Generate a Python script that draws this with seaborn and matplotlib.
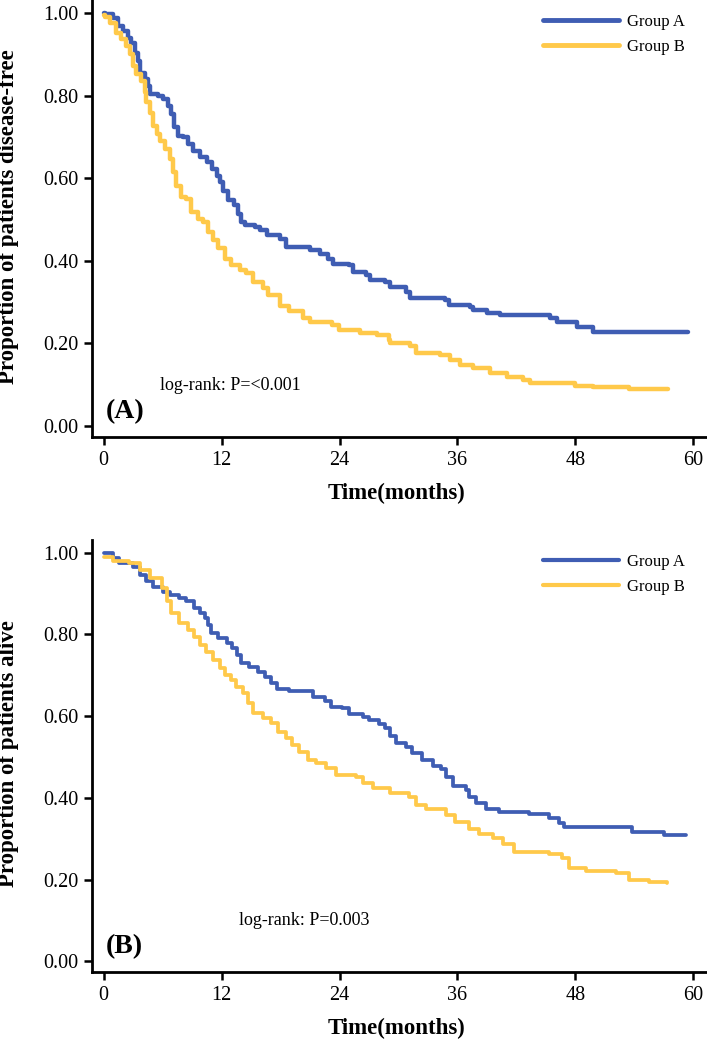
"""
Kaplan-Meier curves: disease-free (A) and overall survival (B)
"""
import numpy as np
import pandas as pd
import matplotlib
matplotlib.use("Agg")
import matplotlib.pyplot as plt
import seaborn as sns

# ---- data ----
groups = ["Group A", "Group B"]
colors = {"Group A": "#3F5DB3", "Group B": "#FFC94A"}

# panel A: disease-free
dfs_months_a = [0, 0.1, 0.95, 1.46, 1.97, 2.47, 2.8, 3.16, 3.5, 3.67, 4.2, 4.5, 4.7, 5.5,
                6.0, 6.5, 6.9, 7.2, 7.6, 8.1, 8.6, 9.1, 9.8, 10.5, 11.0, 11.5, 11.8, 12.1,
                12.7, 13.3, 13.7, 14.0, 14.4, 15.4, 15.9, 16.6, 17.9, 18.6, 21.0, 22.0,
                22.8, 23.3, 25.0, 25.4, 26.7, 27.1, 28.6, 29.1, 30.8, 31.2, 34.7, 35.1,
                37.3, 37.6, 39.0, 40.3, 45.4, 46.1, 48.2, 49.8, 59.5]
dfs_prop_a = [1.0, 0.997, 0.989, 0.969, 0.957, 0.941, 0.928, 0.904, 0.884, 0.856, 0.84,
              0.824, 0.803, 0.80, 0.792, 0.775, 0.755, 0.723, 0.703, 0.699, 0.683, 0.667,
              0.651, 0.639, 0.623, 0.606, 0.59, 0.57, 0.546, 0.534, 0.514, 0.494, 0.486,
              0.481, 0.475, 0.463, 0.453, 0.433, 0.425, 0.417, 0.405, 0.393, 0.389, 0.373,
              0.365, 0.353, 0.349, 0.337, 0.325, 0.309, 0.304, 0.292, 0.287, 0.28, 0.273,
              0.268, 0.26, 0.251, 0.239, 0.227, 0.227]
dfs_months_b = [0, 0.1, 0.6, 1.3, 1.8, 2.3, 2.65, 3.0, 3.3, 3.8, 4.2, 4.35, 4.7, 5.0, 5.4,
                5.7, 6.2, 6.7, 7.06, 7.4, 7.9, 8.4, 8.9, 9.6, 10.1, 10.6, 11.1, 11.6, 12.3,
                13.0, 13.85, 14.5, 15.2, 16.2, 16.7, 17.9, 18.9, 20.3, 21.0, 23.2, 23.9,
                26.1, 27.8, 29.0, 29.1, 31.2, 31.8, 34.2, 35.2, 36.3, 37.6, 39.3, 41.0,
                42.7, 43.4, 48.0, 49.8, 53.5, 57.4]
dfs_prop_b = [0.995, 0.99, 0.977, 0.953, 0.937, 0.92, 0.90, 0.872, 0.852, 0.836, 0.808,
              0.784, 0.759, 0.727, 0.707, 0.691, 0.671, 0.647, 0.614, 0.582, 0.554, 0.55,
              0.518, 0.502, 0.494, 0.47, 0.45, 0.43, 0.405, 0.389, 0.377, 0.369, 0.349,
              0.333, 0.316, 0.289, 0.277, 0.26, 0.252, 0.244, 0.232, 0.224, 0.22, 0.208,
              0.20, 0.192, 0.176, 0.171, 0.159, 0.147, 0.14, 0.128, 0.118, 0.111, 0.104,
              0.097, 0.094, 0.09, 0.09]

# panel B: overall survival
os_months_a = [0, 0.95, 1.6, 3.0, 3.66, 4.3, 5.0, 6.0, 6.7, 7.7, 8.4, 9.2, 9.8, 10.3,
               10.6, 10.9, 11.6, 12.5, 13.1, 13.6, 14.0, 14.8, 15.7, 16.4, 17.0, 17.6,
               18.9, 21.3, 22.5, 23.1, 24.3, 25.0, 26.4, 27.0, 28.0, 28.6, 29.1, 29.7,
               30.8, 31.4, 32.4, 33.5, 34.3, 34.8, 35.5, 36.9, 37.2, 37.9, 38.9, 40.2,
               43.3, 45.3, 46.3, 46.8, 53.8, 57.0, 59.3]
os_prop_a = [1.0, 0.987, 0.975, 0.966, 0.946, 0.93, 0.917, 0.905, 0.897, 0.889, 0.881,
             0.864, 0.852, 0.84, 0.824, 0.803, 0.791, 0.779, 0.766, 0.75, 0.73, 0.721,
             0.709, 0.697, 0.681, 0.666, 0.662, 0.646, 0.636, 0.623, 0.619, 0.605, 0.597,
             0.59, 0.582, 0.57, 0.552, 0.535, 0.525, 0.509, 0.492, 0.479, 0.47, 0.45,
             0.428, 0.42, 0.402, 0.388, 0.372, 0.365, 0.36, 0.35, 0.338, 0.328, 0.316,
             0.309, 0.309]
os_months_b = [0, 0.95, 2.6, 3.66, 4.7, 5.9, 6.4, 6.9, 7.7, 8.6, 9.2, 9.8, 10.4, 11.1,
               11.8, 12.3, 13.0, 13.5, 14.2, 14.7, 15.2, 16.2, 17.0, 17.7, 18.6, 19.2,
               19.9, 20.8, 21.6, 22.6, 23.6, 25.7, 26.4, 27.4, 29.1, 31.1, 31.8, 32.8,
               34.8, 35.8, 37.2, 38.2, 39.6, 40.6, 41.8, 45.3, 46.6, 47.4, 49.1, 52.1,
               53.5, 55.5, 57.3]
os_prop_b = [0.99, 0.98, 0.975, 0.958, 0.938, 0.913, 0.881, 0.852, 0.828, 0.811, 0.795,
             0.775, 0.758, 0.738, 0.717, 0.701, 0.689, 0.672, 0.656, 0.632, 0.607, 0.595,
             0.583, 0.562, 0.546, 0.529, 0.513, 0.493, 0.485, 0.472, 0.456, 0.45, 0.436,
             0.425, 0.413, 0.403, 0.383, 0.373, 0.359, 0.342, 0.324, 0.312, 0.301, 0.287,
             0.268, 0.262, 0.252, 0.228, 0.221, 0.216, 0.199, 0.194, 0.191]

y_ticks = [0.0, 0.2, 0.4, 0.6, 0.8, 1.0]
x_ticks = [0, 12, 24, 36, 48, 60]


def build_frame(t_a, p_a, t_b, p_b):
    return pd.concat([
        pd.DataFrame({"time": t_a, "prop": p_a, "group": groups[0]}),
        pd.DataFrame({"time": t_b, "prop": p_b, "group": groups[1]}),
    ], ignore_index=True)


sns.set_style("ticks")
plt.rcParams["font.family"] = ["Liberation Serif", "DejaVu Serif"]
plt.rcParams["text.color"] = "black"
plt.rcParams["axes.labelcolor"] = "black"

fig = plt.figure(figsize=(7.07, 10.5), dpi=100)
ax_a = fig.add_axes([0.130, 0.584, 0.870, 0.416])
ax_b = fig.add_axes([0.130, 0.074, 0.870, 0.412])

panels = [
    (ax_a, build_frame(dfs_months_a, dfs_prop_a, dfs_months_b, dfs_prop_b),
     "Proportion of patients disease-free", "log-rank: P=<0.001", (5.7, 0.097),
     "(A)", 3.2),
    (ax_b, build_frame(os_months_a, os_prop_a, os_months_b, os_prop_b),
     "Proportion of patients alive", "log-rank: P=0.003", (13.8, 0.10),
     "(B)", 2.7),
]

for ax, df, ylabel, ptext, ppos, tag, lw in panels:
    sns.lineplot(data=df, x="time", y="prop", hue="group", hue_order=groups,
                 palette=colors, estimator=None, sort=False,
                 drawstyle="steps-post", linewidth=lw, ax=ax)

    ax.set_xlim(-1.2, 61.4)
    ax.set_ylim(-0.027, 1.032)
    ax.set_xticks(x_ticks)
    ax.set_yticks(y_ticks)
    ax.set_yticklabels([f"{v:.2f}" for v in y_ticks])
    sns.despine(ax=ax)
    for side in ["left", "bottom"]:
        ax.spines[side].set_linewidth(2.0)
        ax.spines[side].set_color("black")
    ax.tick_params(axis="both", direction="out", length=6, width=1.8,
                   labelsize=14.5, pad=4, colors="black")

    ax.set_xlabel("Time(months)", fontsize=16.5, fontweight="bold")
    ax.set_ylabel(ylabel, fontsize=16.5, fontweight="bold")
    ax.xaxis.set_label_coords(0.496, -0.105)
    ax.yaxis.set_label_coords(-0.118, 0.505)

    ax.text(ppos[0], ppos[1], ptext, fontsize=13, ha="left", va="center")
    ax.text(0.2, 0.035, tag, fontsize=20, fontweight="bold", ha="left", va="center")

    leg = ax.legend(loc="upper left", bbox_to_anchor=(0.733, 0.968), frameon=False,
                    fontsize=12, handlelength=4.6, handletextpad=0.45,
                    labelspacing=0.55, borderpad=0, borderaxespad=0)
    for line in leg.get_lines():
        line.set_linewidth(lw + 0.3)

fig.savefig("out.png", dpi=100)
